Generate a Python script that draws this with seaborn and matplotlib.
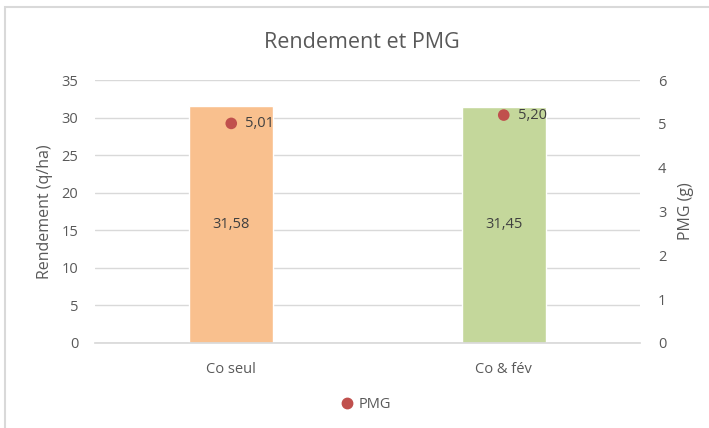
import matplotlib
matplotlib.use("Agg")
import matplotlib.pyplot as plt
import seaborn as sns
import pandas as pd
from matplotlib.patches import Rectangle

categories = ["Co seul", "Co & fév"]
rendement = [31.58, 31.45]
pmg = [5.01, 5.20]
bar_colors = ["#F9C08E", "#C4D79B"]
rendement_labels = ["31,58", "31,45"]
pmg_labels = ["5,01", "5,20"]

sns.set_theme(style="white")
plt.rcParams['font.family'] = ['Open Sans', 'DejaVu Sans']

df = pd.DataFrame({"cat": categories, "rendement": rendement, "pmg": pmg})

fig = plt.figure(figsize=(7.09, 4.28), dpi=100)
ax = fig.add_axes([95/709, 1-343/428, 545/709, 263/428])
gray = "#595959"

sns.barplot(data=df, x="cat", y="rendement", hue="cat", palette=bar_colors,
            width=0.31, ax=ax, legend=False, saturation=1, zorder=2)
ax.set_ylim(0, 35)
ax.set_yticks(range(0, 36, 5))
ax.set_xlim(-0.5, 1.5)
ax.yaxis.grid(True, color="#D9D9D9", linewidth=1, zorder=0)
ax.set_axisbelow(True)
for s in ax.spines.values():
    s.set_visible(False)
ax.spines["bottom"].set_visible(True)
ax.spines["bottom"].set_color("#D9D9D9")
ax.tick_params(axis="both", length=0, colors=gray, labelsize=10.5, pad=12)
ax.tick_params(axis="x", pad=14)
ax.set_xlabel("")
ax.set_ylabel("Rendement (q/ha)", color=gray, fontsize=11.5, labelpad=6)
for i, (v, lab) in enumerate(zip(rendement, rendement_labels)):
    ax.text(i, v/2, lab, ha="center", va="center", color="#404040", fontsize=10.5)

ax2 = ax.twinx()
sns.scatterplot(data=df, x="cat", y="pmg", ax=ax2, color="#C0504D", s=70,
                edgecolor="none", zorder=5, label="PMG", legend=False)
ax2.set_ylim(0, 6)
ax2.set_yticks(range(0, 7))
for s in ax2.spines.values():
    s.set_visible(False)
ax2.tick_params(axis="y", length=0, colors=gray, labelsize=10.5, pad=13)
ax2.set_ylabel("PMG (g)", color=gray, fontsize=11.5, labelpad=8)
ax2.set_xlim(-0.5, 1.5)
for i, (v, lab) in enumerate(zip(pmg, pmg_labels)):
    ax2.annotate(lab, (i, v), xytext=(10, 0), textcoords="offset points",
                 ha="left", va="center", color="#404040", fontsize=10.5)

fig.suptitle("Rendement et PMG", x=362/709, y=1-42/428, va="center",
             color=gray, fontsize=15.5)

handles = [plt.Line2D([], [], marker="o", linestyle="none", color="#C0504D", markersize=7.5)]
fig.legend(handles, ["PMG"], loc="center", bbox_to_anchor=(362/709, 1-405/428),
           frameon=False, fontsize=10.5, handletextpad=-0.2, labelcolor=gray)

fig.patches.append(Rectangle((5/709, -0.1), 1.2, 1 - 7/428 + 0.1, transform=fig.transFigure,
                             fill=False, edgecolor="#D9D9D9", linewidth=1.5))

fig.savefig("out.png", dpi=100)
